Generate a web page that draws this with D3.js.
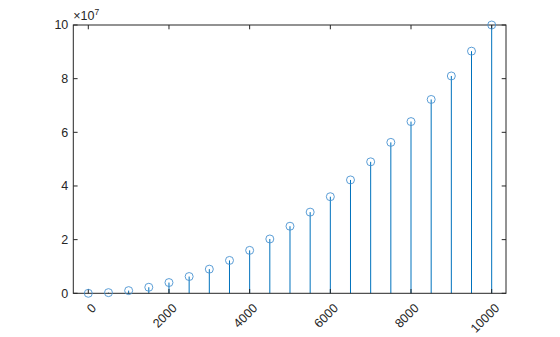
<!DOCTYPE html>
<html>
<head>
<meta charset="utf-8">
<script src="https://cdn.jsdelivr.net/npm/d3@7"></script>
<style>
  html, body { margin: 0; padding: 0; background: #fff; }
  svg { display: block; font-family: "Liberation Sans", Arial, sans-serif; }
</style>
</head>
<body>
<div id="chart"></div>
<script>
// stem data
var xValues = [0, 500, 1000, 1500, 2000, 2500, 3000, 3500, 4000, 4500, 5000,
  5500, 6000, 6500, 7000, 7500, 8000, 8500, 9000, 9500, 10000];
var yValues = [0, 250000, 1000000, 2250000, 4000000, 6250000, 9000000, 12250000,
  16000000, 20250000, 25000000, 30250000, 36000000, 42250000, 49000000,
  56250000, 64000000, 72250000, 81000000, 90250000, 100000000];
var xTicks = [0, 2000, 4000, 6000, 8000, 10000];
var yTicks = [0, 20000000, 40000000, 60000000, 80000000, 100000000];
var yExponent = 7;

var width = 560, height = 337;
// plot box (note: "top" is a reserved window property, so prefix everything)
var boxLeft = 73.3, boxRight = 506, boxTop = 25, boxBottom = 293.3;
var axisColor = "#262626";
var stemColor = "#0072BD";
var tickLen = 4.3;

var x = d3.scaleLinear().domain([-372, 10355]).range([boxLeft, boxRight]);
var y = d3.scaleLinear().domain([0, 100000000]).range([boxBottom, boxTop]);

var svg = d3.select("#chart").append("svg")
  .attr("width", width)
  .attr("height", height);

var data = xValues.map(function (v, i) { return { x: v, y: yValues[i] }; });

// stems
svg.append("g").selectAll("line")
  .data(data)
  .enter().append("line")
  .attr("x1", function (d) { return x(d.x); })
  .attr("x2", function (d) { return x(d.x); })
  .attr("y1", y(0))
  .attr("y2", function (d) { return y(d.y); })
  .attr("stroke", stemColor)
  .attr("stroke-width", 1);

// axes box
var axes = svg.append("g");
axes.append("rect")
  .attr("x", boxLeft).attr("y", boxTop)
  .attr("width", boxRight - boxLeft).attr("height", boxBottom - boxTop)
  .attr("fill", "none")
  .attr("stroke", axisColor)
  .attr("stroke-width", 1);

// inward ticks on all four sides
axes.selectAll(".xt-b").data(xTicks).enter().append("line")
  .attr("x1", function (d) { return x(d); }).attr("x2", function (d) { return x(d); })
  .attr("y1", boxBottom).attr("y2", boxBottom - tickLen)
  .attr("stroke", axisColor);
axes.selectAll(".xt-t").data(xTicks).enter().append("line")
  .attr("x1", function (d) { return x(d); }).attr("x2", function (d) { return x(d); })
  .attr("y1", boxTop).attr("y2", boxTop + tickLen)
  .attr("stroke", axisColor);
axes.selectAll(".yt-l").data(yTicks).enter().append("line")
  .attr("x1", boxLeft).attr("x2", boxLeft + tickLen)
  .attr("y1", function (d) { return y(d); }).attr("y2", function (d) { return y(d); })
  .attr("stroke", axisColor);
axes.selectAll(".yt-r").data(yTicks).enter().append("line")
  .attr("x1", boxRight).attr("x2", boxRight - tickLen)
  .attr("y1", function (d) { return y(d); }).attr("y2", function (d) { return y(d); })
  .attr("stroke", axisColor);

// markers (open circles)
svg.append("g").selectAll("circle")
  .data(data)
  .enter().append("circle")
  .attr("cx", function (d) { return x(d.x); })
  .attr("cy", function (d) { return y(d.y); })
  .attr("r", 4)
  .attr("fill", "none")
  .attr("stroke", "#4a93d1")
  .attr("stroke-width", 0.9);

// x tick labels, rotated
svg.append("g").selectAll("text")
  .data(xTicks)
  .enter().append("text")
  .attr("transform", function (d) { return "translate(" + (x(d) + 5.5) + "," + (boxBottom + 12.5) + ") rotate(-45)"; })
  .attr("text-anchor", "end")
  .attr("dy", "0.35em")
  .attr("font-size", 12.5)
  .attr("fill", axisColor)
  .text(function (d) { return d; });

// y tick labels, scaled by the exponent
svg.append("g").selectAll("text")
  .data(yTicks)
  .enter().append("text")
  .attr("x", boxLeft - 5)
  .attr("y", function (d) { return y(d); })
  .attr("dy", "0.35em")
  .attr("text-anchor", "end")
  .attr("font-size", 12.5)
  .attr("fill", axisColor)
  .text(function (d) { return d / Math.pow(10, yExponent); });

// exponent label
var expLabel = svg.append("text")
  .attr("x", boxLeft)
  .attr("y", 20)
  .attr("font-size", 12.5)
  .attr("fill", axisColor);
expLabel.append("tspan").text("\u00d710");
expLabel.append("tspan")
  .attr("dy", -5)
  .attr("font-size", 8.5)
  .text(yExponent);
</script>
</body>
</html>
